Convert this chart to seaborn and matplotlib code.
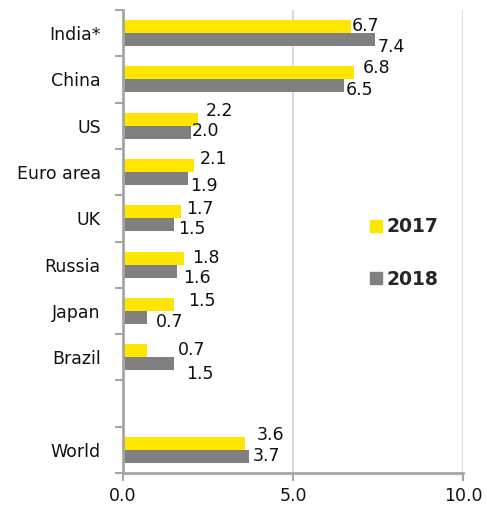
import matplotlib
matplotlib.use("Agg")
import matplotlib.pyplot as plt
from matplotlib.lines import Line2D
from matplotlib.ticker import FixedLocator
import numpy as np
import pandas as pd
import seaborn as sns

# GDP growth by economy (%)
regions = ["India*", "China", "US", "Euro area", "UK", "Russia", "Japan", "Brazil", "", "World"]
growth_2017 = [6.7, 6.8, 2.2, 2.1, 1.7, 1.8, 1.5, 0.7, None, 3.6]
growth_2018 = [7.4, 6.5, 2.0, 1.9, 1.5, 1.6, 0.7, 1.5, None, 3.7]
years = ["2017", "2018"]
x_ticks = [0.0, 5.0, 10.0]

# label nudges in pixels (right, up) so the value labels sit clear of each other
nudge_2017 = [(1, 1), (9, 5), (8, 8), (5, 7), (5, 3), (8, 0), (14, 3), (31, 1), None, (11, 8)]
nudge_2018 = [(3, -7), (2, -4), (1, 1), (3, -7), (4, -4), (6, -7), (9, -5), (12, -10), None, (4, 0)]

YELLOW = "#FFE600"
GREY = "#808080"
AXIS_GREY = "#A6A6A6"
GRID_GREY = "#D9D9D9"
TEXT = "#111111"

df = pd.DataFrame({
    "region": regions * 2,
    "year": [years[0]] * len(regions) + [years[1]] * len(regions),
    "growth": growth_2017 + growth_2018,
})
df["growth"] = pd.to_numeric(df["growth"])

sns.set_style("white")
plt.rcParams["font.family"] = ["DejaVu Sans"]

fig = plt.figure(figsize=(4.87, 5.07), dpi=100)
ax = fig.add_axes([123 / 487, 34 / 507, 340 / 487, 463 / 507])

sns.barplot(
    data=df, y="region", x="growth", hue="year", order=regions,
    hue_order=years, palette=[YELLOW, GREY], orient="h",
    width=0.56, gap=0, dodge=True, errorbar=None, legend=False, ax=ax,
    saturation=1, linewidth=0,
)

ax.set_xlim(0, 10)
ax.set_ylim(len(regions) - 0.5, -0.5)
ax.set_xlabel("")
ax.set_ylabel("")

# value labels
half = 0.14
for i, (a, b) in enumerate(zip(growth_2017, growth_2018)):
    if a is not None:
        dx, dy = nudge_2017[i]
        ax.annotate(f"{a:.1f}", xy=(a, i - half), xytext=(dx, dy),
                    textcoords="offset pixels", ha="left", va="center",
                    fontsize=12.5, color=TEXT)
    if b is not None:
        dx, dy = nudge_2018[i]
        ax.annotate(f"{b:.1f}", xy=(b, i + half), xytext=(dx, dy),
                    textcoords="offset pixels", ha="left", va="center",
                    fontsize=12.5, color=TEXT)

# axes styling
for side in ["top", "right"]:
    ax.spines[side].set_visible(False)
for side in ["left", "bottom"]:
    ax.spines[side].set_color(AXIS_GREY)
    ax.spines[side].set_linewidth(2)

ax.set_xticks(x_ticks)
ax.set_xticklabels([f"{t:.1f}" for t in x_ticks], fontsize=12.5, color=TEXT)
ax.tick_params(axis="x", which="major", bottom=True, length=6, width=1.5,
               color=AXIS_GREY, pad=4, direction="out")
ax.tick_params(axis="x", which="minor", bottom=False, length=0)
ax.xaxis.grid(True, color=GRID_GREY, linewidth=1.5)
ax.set_axisbelow(True)

ax.set_yticks(range(len(regions)))
ax.set_yticklabels(regions, fontsize=12.5, color=TEXT)
ax.tick_params(axis="y", which="major", left=False, length=0, pad=16)
ax.yaxis.set_minor_locator(FixedLocator(np.arange(-0.5, len(regions), 1.0)))
ax.tick_params(axis="y", which="minor", left=True, length=6, width=1.5,
               color=AXIS_GREY, direction="out")

handles = [
    Line2D([], [], marker="s", linestyle="", markersize=8.5, color=YELLOW, label=years[0]),
    Line2D([], [], marker="s", linestyle="", markersize=8.5, color=GREY, label=years[1]),
]
ax.legend(handles=handles, loc="center left", bbox_to_anchor=(362 / 487, 1 - 253 / 507),
          bbox_transform=fig.transFigure, frameon=False, handlelength=0.7,
          handletextpad=0.2, labelspacing=1.8, borderaxespad=0,
          prop={"size": 13.5, "weight": "bold"})

fig.savefig("out.png", dpi=100)
